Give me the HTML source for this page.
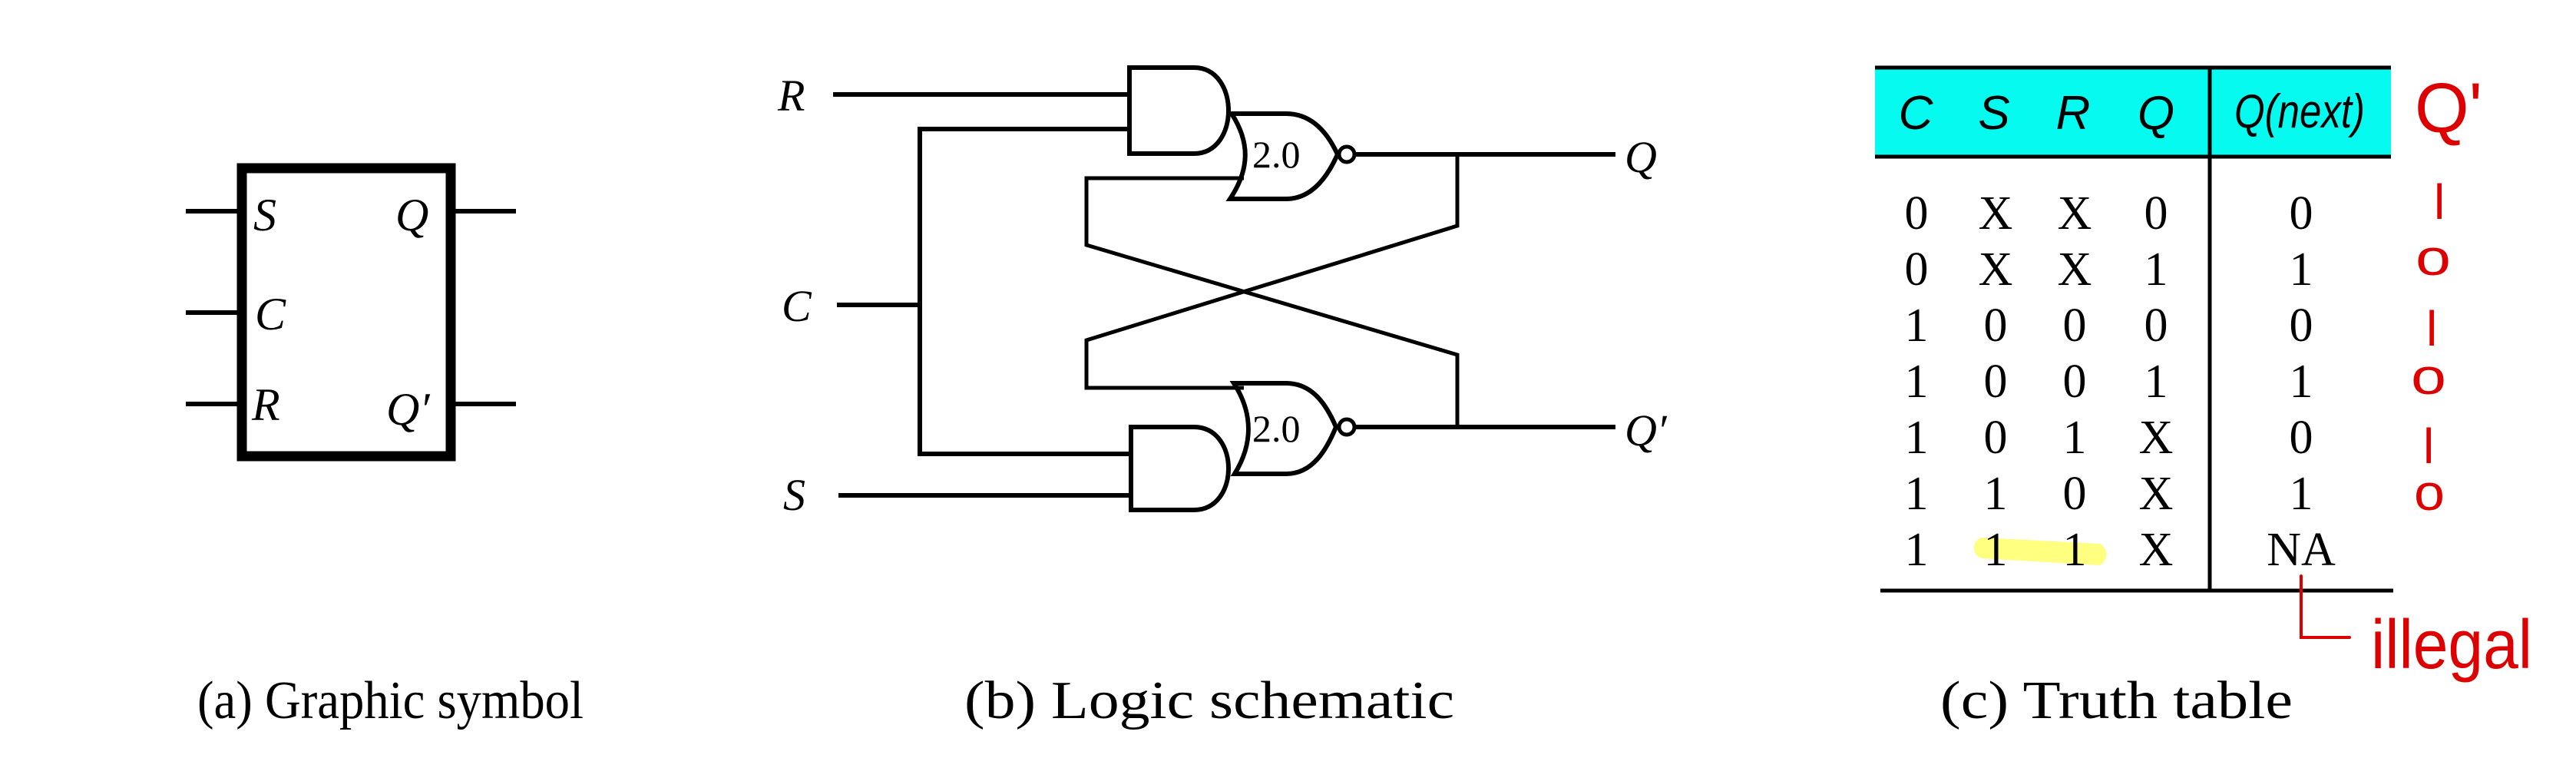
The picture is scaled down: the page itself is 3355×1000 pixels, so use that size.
<!DOCTYPE html>
<html><head><meta charset="utf-8"><style>html,body{margin:0;padding:0;background:#fff}svg{display:block}</style></head>
<body>
<svg width="3355" height="1000" viewBox="0 0 3355 1000" xmlns="http://www.w3.org/2000/svg">
<rect width="3355" height="1000" fill="#fff"/>
<!-- (a) graphic symbol -->
<g stroke="#000" fill="none">
<rect x="315" y="219" width="272" height="375" stroke-width="13"/>
<line x1="242" y1="275" x2="309" y2="275" stroke-width="6"/>
<line x1="242" y1="407" x2="309" y2="407" stroke-width="6"/>
<line x1="242" y1="526" x2="309" y2="526" stroke-width="6"/>
<line x1="593" y1="275" x2="672" y2="275" stroke-width="6"/>
<line x1="593" y1="526" x2="672" y2="526" stroke-width="6"/>
</g>
<g font-family="Liberation Serif, serif" font-style="italic" font-size="60" fill="#000">
<text x="330" y="300">S</text>
<text x="332" y="429">C</text>
<text x="328" y="547">R</text>
<text x="515" y="300">Q</text>
<text x="503" y="553">Q′</text>
</g>
<!-- (b) logic schematic -->
<g stroke="#000" stroke-width="6" fill="none">
<line x1="1085" y1="123" x2="1471" y2="123"/>
<polyline points="1471,168 1198,168 1198,591 1473,591"/>
<line x1="1090" y1="397" x2="1198" y2="397"/>
<line x1="1092" y1="645" x2="1473" y2="645"/>
<path d="M1471,88 H1555 C1615,88 1615,200 1555,200 H1471 Z" fill="#fff"/>
<path d="M1473,556 H1555 C1615,556 1615,664 1555,664 H1473 Z" fill="#fff"/>
<path d="M1604,148 H1675 C1710,148 1730,175 1742,201 C1730,228 1710,259 1675,259 H1602 C1628,220 1628,185 1604,148 Z" fill="#fff"/>
<path d="M1607,499 H1675 C1710,499 1728,528 1740,556 C1728,585 1710,617 1675,617 H1608 C1632,578 1632,538 1607,499 Z" fill="#fff"/>
<circle cx="1754" cy="201" r="10" stroke-width="5"/>
<circle cx="1754" cy="556" r="10" stroke-width="5"/>
<line x1="1765" y1="201" x2="2104" y2="201"/>
<line x1="1765" y1="556" x2="2104" y2="556"/>
<polyline points="1620,232 1415,232 1415,319 1898,462 1898,556" stroke-width="5"/>
<polyline points="1898,201 1898,294 1415,443 1415,505 1620,505" stroke-width="5"/>
</g>
<g font-family="Liberation Serif, serif" font-size="50" fill="#000">
<text x="1631" y="218">2.0</text>
<text x="1631" y="575">2.0</text>
</g>
<g font-family="Liberation Serif, serif" font-style="italic" font-size="58" fill="#000">
<text x="1013" y="144">R</text>
<text x="1018" y="418">C</text>
<text x="1020" y="664">S</text>
<text x="2116" y="224">Q</text>
<text x="2116" y="580">Q′</text>
</g>
<!-- (c) truth table -->
<rect x="2442" y="87" width="672" height="118" fill="#05fbf0"/>
<g stroke="#000" stroke-width="5">
<line x1="2442" y1="88" x2="3114" y2="88"/>
<line x1="2442" y1="204" x2="3114" y2="204"/>
<line x1="2449" y1="769" x2="3117" y2="769"/>
<line x1="2878" y1="86" x2="2878" y2="769"/>
</g>
<g font-family="Liberation Sans, sans-serif" font-style="italic" font-size="62" fill="#000" text-anchor="middle">
<text x="2495" y="168">C</text>
<text x="2597" y="168">S</text>
<text x="2700" y="168">R</text>
<text x="2808" y="168">Q</text>
<text x="2995" y="166" textLength="170" lengthAdjust="spacingAndGlyphs">Q(next)</text>
</g>
<path d="M2581,700 L2735,708 A16,16 0 0 1 2735,736 L2581,727 A14,14 0 0 1 2581,700 Z" fill="#ffff80"/>
<g font-family="Liberation Serif, serif" font-size="62" fill="#000" text-anchor="middle">
<text y="298"><tspan x="2496">0</tspan><tspan x="2599">X</tspan><tspan x="2702">X</tspan><tspan x="2808">0</tspan><tspan x="2997">0</tspan></text>
<text y="371"><tspan x="2496">0</tspan><tspan x="2599">X</tspan><tspan x="2702">X</tspan><tspan x="2808">1</tspan><tspan x="2997">1</tspan></text>
<text y="444"><tspan x="2496">1</tspan><tspan x="2599">0</tspan><tspan x="2702">0</tspan><tspan x="2808">0</tspan><tspan x="2997">0</tspan></text>
<text y="517"><tspan x="2496">1</tspan><tspan x="2599">0</tspan><tspan x="2702">0</tspan><tspan x="2808">1</tspan><tspan x="2997">1</tspan></text>
<text y="590"><tspan x="2496">1</tspan><tspan x="2599">0</tspan><tspan x="2702">1</tspan><tspan x="2808">X</tspan><tspan x="2997">0</tspan></text>
<text y="663"><tspan x="2496">1</tspan><tspan x="2599">1</tspan><tspan x="2702">0</tspan><tspan x="2808">X</tspan><tspan x="2997">1</tspan></text>
<text y="736"><tspan x="2496">1</tspan><tspan x="2599">1</tspan><tspan x="2702">1</tspan><tspan x="2808">X</tspan><tspan x="2997">NA</tspan></text>
</g>
<!-- red annotations -->
<g fill="none" stroke="#d00" stroke-width="4" stroke-linecap="round">
<path d="M2997,750 L2997,830 L3060,830"/>
</g>
<g font-family="Liberation Sans, sans-serif" fill="#d00">
<text x="3145" y="172" font-size="92" textLength="88" lengthAdjust="spacingAndGlyphs">Q'</text>
<text x="3170" y="285" font-size="64">l</text>
<text x="3146" y="358" font-size="66" textLength="46" lengthAdjust="spacingAndGlyphs">o</text>
<text x="3160" y="450" font-size="64">l</text>
<text x="3140" y="513" font-size="66" textLength="46" lengthAdjust="spacingAndGlyphs">o</text>
<text x="3156" y="603" font-size="64">l</text>
<text x="3144" y="664" font-size="66" textLength="40" lengthAdjust="spacingAndGlyphs">o</text>
<text x="3088" y="870" font-size="90" textLength="210" lengthAdjust="spacingAndGlyphs">illegal</text>
</g>
<!-- captions -->
<g font-family="Liberation Serif, serif" font-size="70" fill="#000">
<text x="257" y="935" textLength="503" lengthAdjust="spacingAndGlyphs">(a) Graphic symbol</text>
<text x="1256" y="935" textLength="638" lengthAdjust="spacingAndGlyphs">(b) Logic schematic</text>
<text x="2527" y="935" textLength="459" lengthAdjust="spacingAndGlyphs">(c) Truth table</text>
</g>
</svg>
</body></html>
